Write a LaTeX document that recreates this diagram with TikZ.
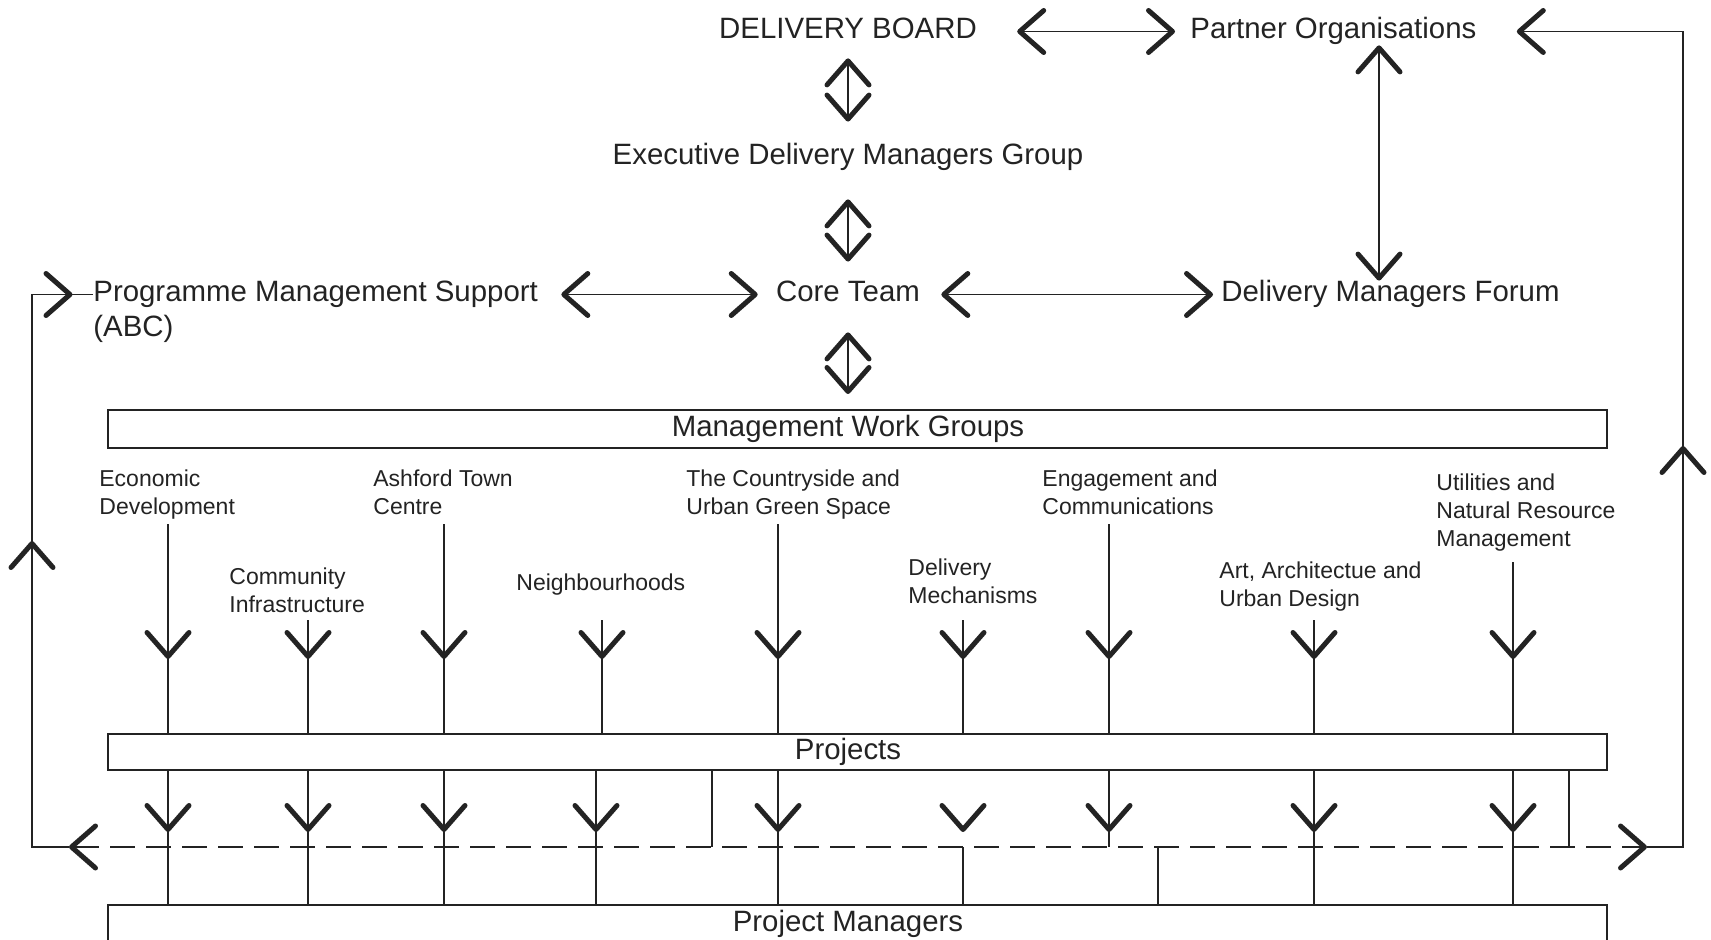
\documentclass[tikz,border=0pt]{standalone}
\usepackage{fontspec}
\setmainfont{Liberation Sans}
\usetikzlibrary{arrows.meta,decorations.markings}
\definecolor{ink}{RGB}{35,35,35}
\newcommand\bigtxt{\fontsize{14.7pt}{17.5pt}\selectfont}
\newcommand\smalltxt{\fontsize{11.5pt}{14pt}\selectfont}
\tikzset{
  chev/.tip={Straight Barb[length=12pt,width=21pt,line width=2.5pt,round]},
  heading/.style={inner sep=0pt,font=\bigtxt,text height=10.5pt,text depth=3pt},
  group/.style={inner sep=0pt,font=\smalltxt,align=left,anchor=north west},
  band/.style={draw,line width=1pt,minimum width=749.5pt,inner sep=0pt},
  bandtext/.style={label={[heading,xshift=-4.75pt]center:#1}},
  link/.style={line width=0.9pt},
  twoway/.style={link,chev-chev},
  feedback/.style={link,dash pattern=on 12.5pt off 5.5pt},
  midchev/.style={postaction={decorate,decoration={markings,mark=at position #1 with {\arrow{chev}}}}},
}
\begin{document}
\begin{tikzpicture}[x=0.5pt,y=0.5pt,yscale=-1,xscale=1,color=ink]
        \useasboundingbox (0,0) rectangle (1711,940);
        % Text Node
        \node[heading,anchor=base] (board) at (848,39) {DELIVERY BOARD};
        % Text Node
        \node[heading,anchor=base west] (partner) at (1190,39) {Partner Organisations};
        % Text Node
        \node[heading,anchor=base] (exec) at (848,165) {Executive Delivery Managers Group};
        % Text Node
        \node[heading,anchor=base] (core) at (848,302) {Core Team};
        % Text Node
        \node[inner sep=0pt,font=\bigtxt,align=left,anchor=north west] (pms) at (93,281) {Programme Management Support\\(ABC)};
        % Text Node
        \node[heading,anchor=base west] (dmf) at (1221,302) {Delivery Managers Forum};

        %Shape: Rectangle
        \node[band,minimum height=19pt,bandtext=Management Work Groups] (mwg) at (857.5,429) {};
        %Shape: Rectangle
        \node[band,minimum height=18pt,bandtext=Projects] (projects) at (857.5,752) {};
        %Shape: Rectangle
        \node[band,minimum height=19pt,bandtext=Project Managers] (pm) at (857.5,924) {};

        % Text Node
        \node[group] (econ) at (99,469) {Economic\\Development};
        \node[group] (comm) at (229,567) {Community\\Infrastructure};
        \node[group] (ashford) at (373,469) {Ashford Town\\Centre};
        \node[group] (neigh) at (516,573) {Neighbourhoods};
        \node[group] (country) at (686,469) {The Countryside and\\Urban Green Space};
        \node[group] (delmech) at (908,558) {Delivery\\Mechanisms};
        \node[group] (engage) at (1042,469) {Engagement and\\Communications};
        \node[group] (art) at (1219,561) {Art, Architectue and\\Urban Design};
        \node[group] (util) at (1436,473) {Utilities and\\Natural Resource\\Management};

        %Straight Lines
        \draw[twoway,shorten <=6.5pt,shorten >=11pt] (board) -- (exec);
        \draw[twoway,shorten <=14pt,shorten >=9.5pt] (exec) -- (core);
        \draw[twoway,shorten <=12pt,shorten >=7.5pt] (core.south) -- (core.south |- mwg.north);
        \draw[twoway,shorten <=20pt,shorten >=7.5pt] (board.east) -- (board.east -| partner.west);
        \draw[twoway,shorten <=11.5pt,shorten >=9pt] (core.west -| pms.east) -- (core.west);
        \draw[twoway,shorten <=10.5pt,shorten >=4pt] (core.east) -- (dmf.west);
        \draw[twoway] (partner.south -| 1379,0) -- (dmf.north -| 1379,0);

        %Straight Lines: groups into projects
        \foreach \nm/\cx/\cy in {econ/168/524,comm/308/620,ashford/444/524,neigh/602/620,country/778/524,delmech/963/620,engage/1109/524,art/1314/620,util/1513/562}
          \draw[link,midchev=-37pt] (\cx,\cy) coordinate (\nm top) -- (\nm top |- projects.north);

        % feedback line
        \coordinate (fb-left) at (69,847);
        \coordinate (fb-right) at (1647,847);
        \draw[feedback,chev-chev] (fb-left) -- (fb-right);

        %Straight Lines: projects into project managers
        \foreach \cx in {168,308,444,596,778,1314,1513}
          \draw[link,midchev=30.5pt] (projects.south -| \cx,0) -- (pm.north -| \cx,0);
        \draw[link,midchev=30.5pt] (projects.south -| 1109,0) -- (fb-left -| 1109,0);
        \path[midchev=30.5pt] (projects.south -| 963,0) -- (fb-left -| 963,0);
        \draw[link] (fb-left -| 963,0) -- (pm.north -| 963,0);
        \draw[link] (fb-left -| 1158,0) -- (pm.north -| 1158,0);
        \draw[link] (projects.south -| 712,0) -- (fb-left -| 712,0);
        \draw[link] (projects.south -| 1569,0) -- (fb-left -| 1569,0);

        % loops back to the top
        \draw[link,midchev=171.5pt,midchev=315pt] (fb-left) -- ++(-37,0) |- (pms.west |- core.west);
        \draw[link,-chev,shorten >=20pt,midchev=218.5pt] (fb-right) -- ++(36,0) |- (partner.east);
\end{tikzpicture}
\end{document}
